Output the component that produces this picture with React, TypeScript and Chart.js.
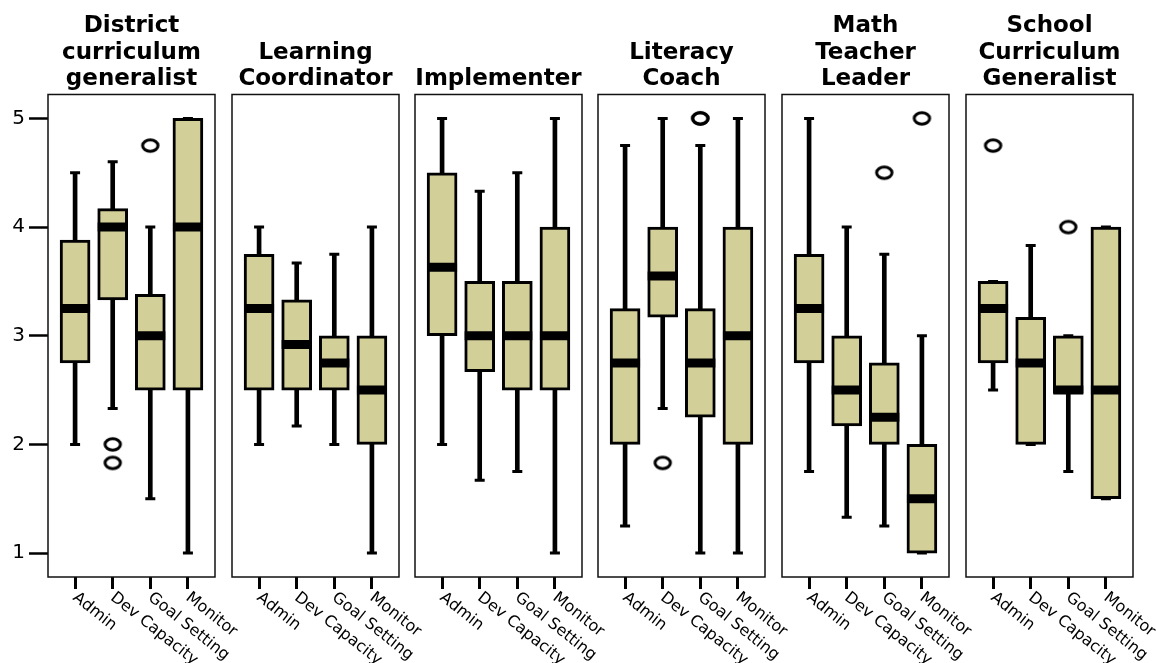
import React, { useEffect, useRef } from 'react';
import { Chart, registerables } from 'chart.js';

Chart.register(...registerables);

// ---------- data ----------
const categories = ['Admin', 'Dev Capacity', 'Goal Setting', 'Monitor'];
const yTickValues = [1, 2, 3, 4, 5];

const panelTitles = [
  ['District', 'curriculum', 'generalist'],
  ['', 'Learning', 'Coordinator'],
  ['', '', 'Implementer'],
  ['', 'Literacy', 'Coach'],
  ['Math', 'Teacher', 'Leader'],
  ['School', 'Curriculum', 'Generalist'],
];

// one row per panel, one value per category
const whiskerLow = [
  [2, 2.33, 1.5, 1],
  [2, 2.17, 2, 1],
  [2, 1.67, 1.75, 1],
  [1.25, 2.33, 1, 1],
  [1.75, 1.33, 1.25, 1],
  [2.5, 2, 1.75, 1.5],
];
const quartile1 = [
  [2.75, 3.33, 2.5, 2.5],
  [2.5, 2.5, 2.5, 2],
  [3, 2.67, 2.5, 2.5],
  [2, 3.17, 2.25, 2],
  [2.75, 2.17, 2, 1],
  [2.75, 2, 2.47, 1.5],
];
const medians = [
  [3.25, 4, 3, 4],
  [3.25, 2.92, 2.75, 2.5],
  [3.63, 3, 3, 3],
  [2.75, 3.55, 2.75, 3],
  [3.25, 2.5, 2.25, 1.5],
  [3.25, 2.75, 2.5, 2.5],
];
const quartile3 = [
  [3.88, 4.17, 3.38, 5],
  [3.75, 3.33, 3, 3],
  [4.5, 3.5, 3.5, 4],
  [3.25, 4, 3.25, 4],
  [3.75, 3, 2.75, 2],
  [3.5, 3.17, 3, 4],
];
const whiskerHigh = [
  [4.5, 4.6, 4, 5],
  [4, 3.67, 3.75, 4],
  [5, 4.33, 4.5, 5],
  [4.75, 5, 4.75, 5],
  [5, 4, 3.75, 3],
  [3.5, 3.83, 3, 4],
];
const outliers: number[][][] = [
  [[], [2, 1.83], [4.75], []],
  [[], [], [], []],
  [[], [], [], []],
  [[], [1.83], [5, 5], []],
  [[], [], [4.5], [5]],
  [[4.75], [], [4], []],
];

// ---------- layout / style ----------
const W = 1156;
const H = 663;
const PLOT_W = 167;
const PLOT_BOTTOM = 577;
const X_AXIS_H = 12;
const PANEL_LEFTS = [48, 232, 415, 598, 782, 966];
const FIRST_AXIS_W = 40;
const BOX_FILL = '#d3cf98';
const FONT = '"DejaVu Sans", Verdana, sans-serif';
const LABEL_ANGLE = (38.5 * Math.PI) / 180;

function makeEllipse(): HTMLCanvasElement {
  const c = document.createElement('canvas');
  c.width = 21;
  c.height = 17;
  const ctx = c.getContext('2d')!;
  ctx.lineWidth = 3;
  ctx.strokeStyle = '#000';
  ctx.beginPath();
  ctx.ellipse(10.5, 8.5, 7.7, 5.7, 0, 0, Math.PI * 2);
  ctx.stroke();
  return c;
}

const framePlugin = {
  id: 'frame',
  beforeDatasetsDraw(chart: any) {
    const { ctx, chartArea: a } = chart;
    ctx.save();
    ctx.strokeStyle = '#111';
    ctx.lineWidth = 1.5;
    ctx.strokeRect(a.left, a.top, a.right - a.left, a.bottom - a.top);
    ctx.restore();
  },
};

const xLabelPlugin = {
  id: 'xLabels',
  afterDraw(chart: any) {
    const { ctx, chartArea } = chart;
    const xs = chart.scales.x;
    ctx.save();
    ctx.font = `16px ${FONT}`;
    ctx.fillStyle = '#000';
    ctx.textAlign = 'left';
    ctx.textBaseline = 'alphabetic';
    xs.ticks.forEach((t: any) => {
      const label = categories[t.value];
      const px = xs.getPixelForValue(t.value);
      ctx.save();
      ctx.translate(px - 3, chartArea.bottom + X_AXIS_H + 10);
      ctx.rotate(LABEL_ANGLE);
      ctx.fillText(label, 0, 0);
      ctx.restore();
    });
    ctx.restore();
  },
};

function geometry(i: number) {
  const leftExtra = i === 0 ? PANEL_LEFTS[0] : 12;
  const rightExtra = 75;
  return {
    left: PANEL_LEFTS[i] - leftExtra,
    width: leftExtra + PLOT_W + rightExtra,
    padLeft: i === 0 ? leftExtra - FIRST_AXIS_W : leftExtra,
    padRight: rightExtra,
  };
}

export default function App() {
  const refs = useRef<(HTMLCanvasElement | null)[]>([]);

  useEffect(() => {
    const ellipse = makeEllipse();
    const charts: Chart[] = [];
    panelTitles.forEach((title, i) => {
      const canvas = refs.current[i];
      if (!canvas) return;
      const g = geometry(i);
      const idx = categories.map((_, j) => j);
      const caps = [
        ...idx.map((j) => ({ x: j, y: whiskerLow[i][j] })),
        ...idx.map((j) => ({ x: j, y: whiskerHigh[i][j] })),
      ];
      const outPts: { x: number; y: number }[] = [];
      idx.forEach((j) => outliers[i][j].forEach((v) => outPts.push({ x: j, y: v })));

      const chart = new Chart(canvas, {
        type: 'bar',
        data: {
          datasets: [
            {
              type: 'bar',
              label: 'whisker',
              data: idx.map((j) => ({ x: j, y: [whiskerLow[i][j], whiskerHigh[i][j]] })) as any,
              backgroundColor: '#000',
              borderWidth: 0,
              barThickness: 4,
              grouped: false,
              order: 5,
            },
            {
              type: 'bar',
              label: 'box',
              data: idx.map((j) => ({ x: j, y: [quartile1[i][j], quartile3[i][j]] })) as any,
              backgroundColor: BOX_FILL,
              borderColor: '#000',
              borderWidth: 3,
              borderSkipped: false,
              barThickness: 30,
              grouped: false,
              order: 4,
            },
            {
              type: 'scatter',
              label: 'caps',
              data: caps,
              pointStyle: 'line',
              pointRadius: 5,
              pointBorderColor: '#000',
              pointBorderWidth: 3,
              order: 3,
            } as any,
            {
              type: 'scatter',
              label: 'median',
              data: idx.map((j) => ({ x: j, y: medians[i][j] })),
              pointStyle: 'line',
              pointRadius: 15,
              pointBorderColor: '#000',
              pointBorderWidth: 9,
              order: 2,
            } as any,
            {
              type: 'scatter',
              label: 'outliers',
              data: outPts,
              pointStyle: ellipse,
              pointRadius: 8,
              order: 1,
            } as any,
          ],
        },
        options: {
          responsive: false,
          animation: false,
          devicePixelRatio: 1,
          events: [],
          layout: {
            autoPadding: false,
            padding: {
              left: g.padLeft,
              right: g.padRight,
              top: 13,
              bottom: H - PLOT_BOTTOM - X_AXIS_H,
            },
          },
          plugins: {
            legend: { display: false },
            tooltip: { enabled: false },
            title: {
              display: true,
              text: title,
              fullSize: false,
              color: '#000',
              font: { family: FONT, size: 23, weight: 'bold', lineHeight: 1.152 },
              padding: { top: 0, bottom: 2 },
            },
          },
          scales: {
            x: {
              type: 'linear',
              offset: false,
              min: -0.72,
              max: 3.72,
              afterBuildTicks: (s: any) => {
                s.ticks = categories.map((_, j) => ({ value: j }));
              },
              afterFit: (s: any) => {
                s.height = X_AXIS_H;
              },
              grid: {
                offset: false,
                drawOnChartArea: false,
                drawTicks: true,
                tickLength: X_AXIS_H,
                tickWidth: 3,
                tickColor: '#000',
              },
              border: { display: false },
              ticks: { display: false },
            },
            y: {
              display: i === 0,
              min: 0.78,
              max: 5.22,
              afterBuildTicks: (s: any) => {
                s.ticks = yTickValues.map((v) => ({ value: v }));
              },
              afterFit: (s: any) => {
                s.width = i === 0 ? FIRST_AXIS_W : 0;
              },
              grid: {
                drawOnChartArea: false,
                drawTicks: true,
                tickLength: 19,
                tickWidth: 2.5,
                tickColor: '#000',
              },
              border: { display: false },
              ticks: {
                color: '#000',
                padding: 4,
                font: { family: FONT, size: 20 },
                callback: (v: any) => String(v),
              },
            },
          },
        } as any,
        plugins: [framePlugin, xLabelPlugin],
      });
      charts.push(chart);
    });
    return () => charts.forEach((c) => c.destroy());
  }, []);

  return (
    <div
      style={{
        position: 'fixed',
        left: 0,
        top: 0,
        width: W,
        height: H,
        overflow: 'hidden',
        background: '#fff',
      }}
    >
      {panelTitles.map((_, i) => {
        const g = geometry(i);
        return (
          <canvas
            key={i}
            ref={(el) => {
              refs.current[i] = el;
            }}
            width={g.width}
            height={H}
            style={{ position: 'absolute', left: g.left, top: 0, width: g.width, height: H }}
          />
        );
      })}
    </div>
  );
}
